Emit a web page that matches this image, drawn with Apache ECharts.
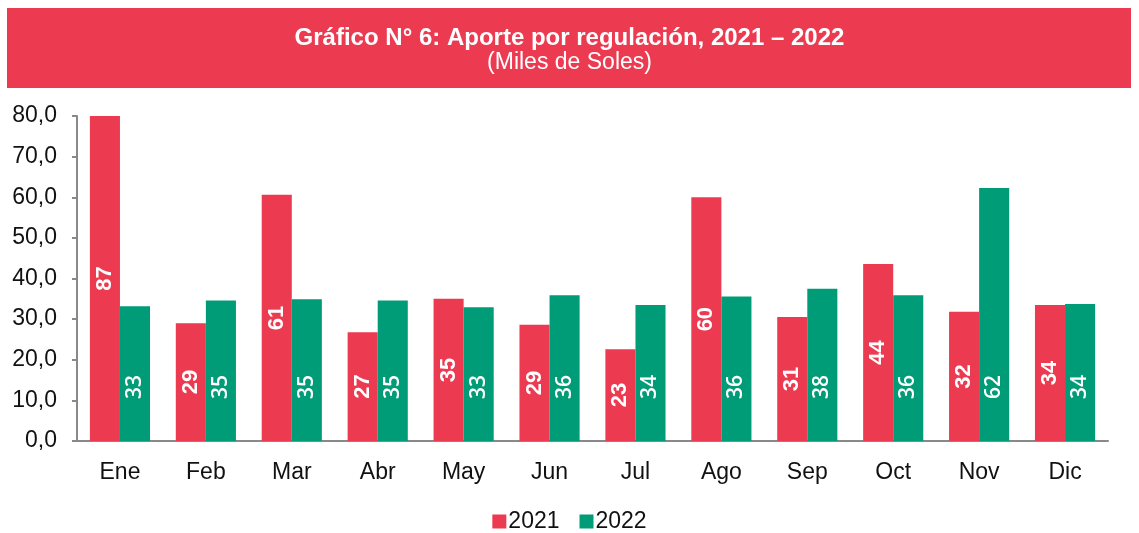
<!DOCTYPE html>
<html>
<head>
    <meta charset="utf-8">
    <title>ECharts</title>
    <script type="text/javascript" src="https://cdn.jsdelivr.net/npm/echarts@6/dist/echarts.min.js"></script>
    <style>
        html, body { margin: 0; padding: 0; background: #fff; }
    </style>
</head>
<body>
<div id="main" style="width: 1139px;height:533px;"></div>
<script type="text/javascript">
    // meses
    var meses = ['Ene', 'Feb', 'Mar', 'Abr', 'May', 'Jun', 'Jul', 'Ago', 'Sep', 'Oct', 'Nov', 'Dic'];
    // aporte por regulacion (miles de soles)
    var aporte2021 = [87, 29.0, 60.6, 26.8, 35.0, 28.6, 22.6, 60.0, 30.5, 43.6, 31.8, 33.5];
    var aporte2022 = [33.2, 34.6, 34.9, 34.6, 32.9, 35.9, 33.5, 35.6, 37.5, 35.9, 62.3, 33.7];
    // etiquetas del eje y
    var ejeY = [0, 10, 20, 30, 40, 50, 60, 70, 80];

    var rojo = '#EC3A51';
    var verde = '#009B77';

    var myChart = echarts.init(document.getElementById('main'));

    var option = {
        animation: false,
        textStyle: { fontFamily: 'Liberation Sans, Arial, sans-serif' },
        graphic: [{
            type: 'rect',
            shape: { x: 7, y: 8, width: 1124, height: 80 },
            style: { fill: rojo },
            z: -1
        }],
        title: {
            text: 'Gráfico N° 6: Aporte por regulación, 2021 – 2022',
            subtext: '(Miles de Soles)',
            left: 'center',
            top: 20,
            itemGap: 0,
            textStyle: { color: '#fff', fontSize: 24, fontWeight: 'bold', lineHeight: 26 },
            subtextStyle: { color: '#fff', fontSize: 23, lineHeight: 24 }
        },
        legend: {
            data: ['2021', '2022'],
            top: 505,
            left: 'center',
            icon: 'rect',
            itemWidth: 14,
            itemHeight: 14,
            itemGap: 20,
            textStyle: { fontSize: 23, color: '#111', padding: [0, 0, 0, -3] }
        },
        grid: { left: 77, right: 31, top: 116, bottom: 92 },
        xAxis: {
            type: 'category',
            data: meses,
            axisLine: { lineStyle: { color: '#898989', width: 2 } },
            axisTick: { length: 5, lineStyle: { color: '#898989', width: 2 } },
            axisLabel: { fontSize: 23, color: '#111', margin: 20 }
        },
        yAxis: {
            type: 'value',
            min: ejeY[0],
            max: ejeY[ejeY.length - 1],
            interval: 10,
            splitLine: { show: false },
            axisLine: { show: true, lineStyle: { color: '#898989', width: 2 } },
            axisTick: { show: true, length: 5, lineStyle: { color: '#898989', width: 2 } },
            axisLabel: {
                fontSize: 23,
                color: '#111',
                margin: 20,
                formatter: function (v) { return v.toFixed(1).replace('.', ','); }
            }
        },
        series: [{
            name: '2021',
            type: 'bar',
            data: aporte2021,
            barGap: '0%',
            barCategoryGap: '30%',
            itemStyle: { color: rojo },
            label: {
                show: true,
                position: 'inside',
                rotate: 90,
                color: '#fff',
                fontSize: 22,
                fontWeight: 'bold',
                formatter: function (p) { return Math.round(p.value); }
            }
        }, {
            name: '2022',
            type: 'bar',
            data: aporte2022,
            itemStyle: { color: verde },
            label: {
                show: true,
                position: 'insideBottom',
                distance: 42,
                rotate: 90,
                align: 'left',
                verticalAlign: 'middle',
                color: '#fff',
                fontSize: 21,
                fontWeight: 600,
                fontFamily: 'Open Sans',
                formatter: function (p) { return Math.round(p.value); }
            }
        }]
    };

    myChart.setOption(option);
</script>
</body>
</html>
